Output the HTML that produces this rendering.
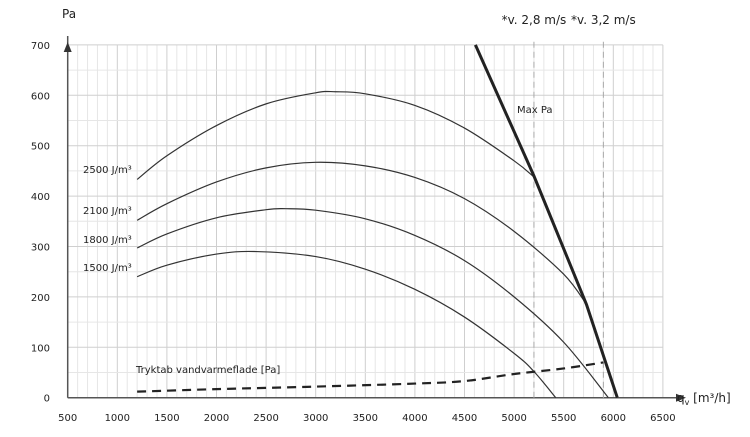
<!DOCTYPE html>
<html><head><meta charset="utf-8"><style>
body{margin:0;background:#fff}
svg{display:block;font-family:"DejaVu Sans","Liberation Sans",sans-serif}
</style></head><body>
<svg id="c" width="750" height="437" viewBox="0 0 750 437">
<g id="grid"></g><g id="marks"></g><g id="labels" font-size="10" fill="#222"></g>
</svg>
<script>
const xTicks=[500,1000,1500,2000,2500,3000,3500,4000,4500,5000,5500,6000,6500];
const yTicks=[0,100,200,300,400,500,600,700];
const c2500x=[1200,1500,2000,2500,3000,3200,3500,4000,4500,5000,5200];
const c2500y=[433,480,540,583,605,607,603,580,535,470,438];
const c2100x=[1200,1500,2000,2500,3000,3500,4000,4500,5000,5500,5730];
const c2100y=[352,385,428,456,467,460,437,395,330,245,185];
const c1800x=[1200,1500,2000,2500,2700,3000,3500,4000,4500,5000,5500,5950];
const c1800y=[297,325,357,373,375,372,355,322,272,200,110,0];
const c1500x=[1200,1500,2000,2400,3000,3500,4000,4500,5000,5200,5420];
const c1500y=[240,263,285,290,280,255,215,160,88,52,0];
const maxX=[4610,5200,5730,6040];
const maxY=[700,440,185,0];
const dashX=[1200,2000,3000,4000,4500,5000,5500,5900];
const dashY=[12,17,22,28,33,47,58,70];
const vLines=[5200,5900];
const vLabels=["*v. 2,8 m/s","*v. 3,2 m/s"];
const curveLabels=["2500 J/m³","2100 J/m³","1800 J/m³","1500 J/m³"];
const curveLabelY=[173,214,243,271];

const X=v=>67.7+(v-500)*0.0992;
const Y=v=>397.7-v*0.504;
const NS="http://www.w3.org/2000/svg";
function mk(tag,parent,attrs){const e=document.createElementNS(NS,tag);for(const k in attrs)e.setAttribute(k,attrs[k]);document.getElementById(parent).appendChild(e);return e;}
// grid
for(let v=500;v<=6500;v+=100){
 const e=mk('line','grid',{x1:X(v),x2:X(v),y1:Y(0),y2:Y(700),stroke:v%500===0?'#cfcfcf':'#e6e6e6','stroke-width':1});
 
 
}
for(let v=50;v<=700;v+=50){
 const e=mk('line','grid',{x1:X(500),x2:X(6500),y1:Y(v),y2:Y(v),stroke:v%100===0?'#cfcfcf':'#e6e6e6','stroke-width':1});
 
 
}
// axes
let a=mk('line','marks',{x1:X(500),x2:X(500),y1:Y(0),y2:36,stroke:'#555','stroke-width':1.5});

a=mk('polygon','marks',{points:`${X(500)-4},52 ${X(500)},42 ${X(500)+4},52`,fill:'#333'});

a=mk('line','marks',{x1:X(500),x2:680,y1:Y(0),y2:Y(0),stroke:'#555','stroke-width':1.5});

a=mk('polygon','marks',{points:`676,${Y(0)-4} 686,${Y(0)} 676,${Y(0)+4}`,fill:'#333'});

// vertical dashed speed lines
vLines.forEach((v,i)=>{
 const e=mk('line','marks',{x1:X(v),x2:X(v),y1:Y(0),y2:Y(700)-5,stroke:'#aaa','stroke-dasharray':'6,4','stroke-width':1});
 
 
 const t=mk('text','labels',{x:X(v),y:24,'text-anchor':'middle','font-size':'12'});
 t.textContent=vLabels[i];
 
 
});
function path(xs,ys){return xs.map((x,i)=>(i?'L':'M')+X(x).toFixed(1)+','+Y(ys[i]).toFixed(1)).join(' ');}
function smooth(xs,ys){const p=xs.map((x,i)=>[X(x),Y(ys[i])]);let d='M'+p[0];for(let i=0;i<p.length-1;i++){const p0=p[i-1]||p[i],p1=p[i],p2=p[i+1],p3=p[i+2]||p2;d+=` C${p1[0]+(p2[0]-p0[0])/6},${p1[1]+(p2[1]-p0[1])/6} ${p2[0]-(p3[0]-p1[0])/6},${p2[1]-(p3[1]-p1[1])/6} ${p2[0]},${p2[1]}`;}return d;}
[[c2500x,c2500y],[c2100x,c2100y],[c1800x,c1800y],[c1500x,c1500y]].forEach((s,i)=>{
 const e=mk('path','marks',{d:smooth(s[0],s[1]),fill:'none',stroke:'#333','stroke-width':1.2});
 
 
 const t=mk('text','labels',{x:83,y:curveLabelY[i],'font-size':'10'});
 t.textContent=curveLabels[i];
 
 
});
a=mk('path','marks',{d:path(maxX,maxY),fill:'none',stroke:'#222','stroke-width':3});

a=mk('path','marks',{d:smooth(dashX,dashY),fill:'none',stroke:'#222','stroke-width':2.2,'stroke-dasharray':'9,6'});

xTicks.forEach(v=>{
 const t=mk('text','labels',{x:X(v),y:421,'text-anchor':'middle'});
 t.textContent=v;
 
 
});
yTicks.forEach(v=>{
 const t=mk('text','labels',{x:50,y:Y(v)+4,'text-anchor':'end'});
 t.textContent=v;
 
 
});
let t=mk('text','labels',{x:62,y:18,'font-size':'12'});t.textContent='Pa';

t=mk('text','labels',{x:517,y:113,'font-size':'10'});t.textContent='Max Pa';

t=mk('text','labels',{x:136,y:373,'font-size':'10'});t.textContent='Tryktab vandvarmeflade [Pa]';

t=mk('text','labels',{x:677,y:402,'font-size':'12'});t.innerHTML='q<tspan font-size="8" dy="3">v</tspan><tspan dy="-3"> [m³/h]</tspan>';

</script>
</body></html>
